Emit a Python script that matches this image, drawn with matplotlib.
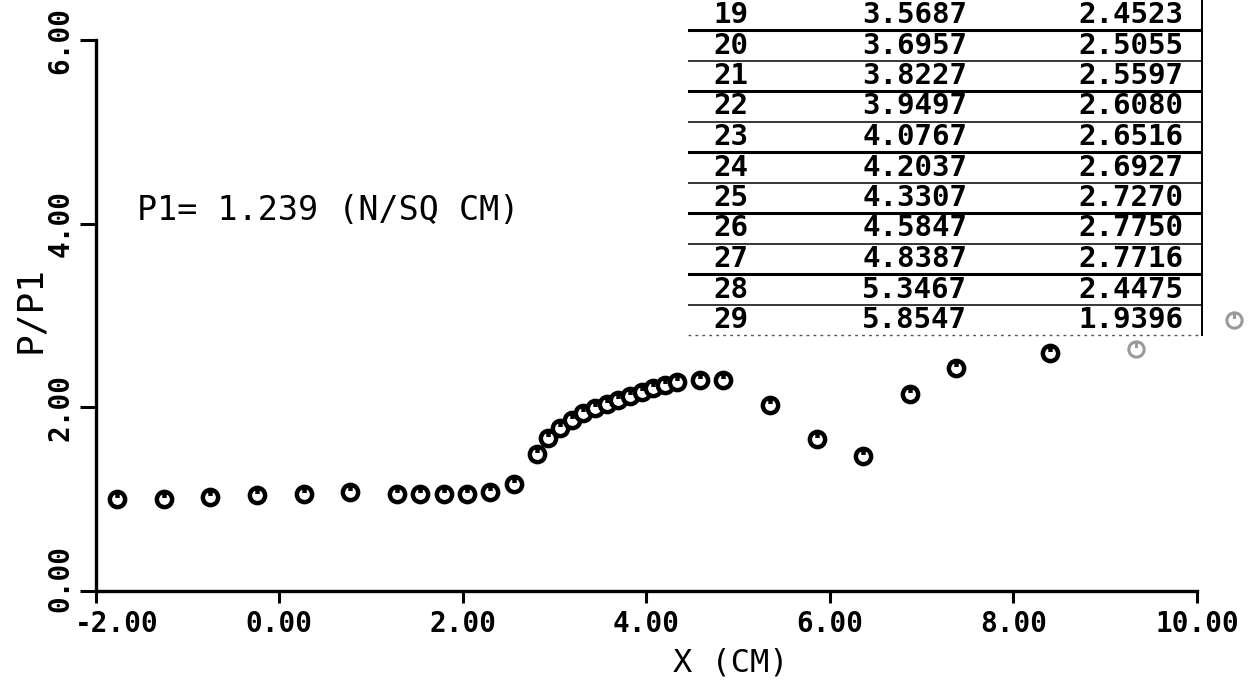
import matplotlib
matplotlib.use("Agg")
import matplotlib.pyplot as plt
from matplotlib.path import Path
from matplotlib.transforms import ScaledTranslation

plt.rcParams['font.family'] = ['DejaVu Sans Mono', 'DejaVu Sans']
plt.rcParams['axes.unicode_minus'] = False

# plotted stations: x (cm) and P/P1
x_cm = [-1.7653, -1.2573, -0.7493, -0.2413, 0.2667, 0.7747,
        1.2827, 1.5367, 1.7907, 2.0447, 2.2987, 2.5527,
        2.8067, 2.9337, 3.0607, 3.1877, 3.3147, 3.4417,
        3.5687, 3.6957, 3.8227, 3.9497, 4.0767, 4.2037, 4.3307,
        4.5847, 4.8387, 5.3467, 5.8547,
        6.3627, 6.8707, 7.3787, 8.3947]
p_ratio = [1.00, 1.00, 1.02, 1.05, 1.06, 1.08,
           1.06, 1.06, 1.06, 1.06, 1.08, 1.17,
           1.49, 1.67, 1.77, 1.86, 1.94, 1.99,
           2.04, 2.08, 2.12, 2.17, 2.21, 2.24, 2.28,
           2.30, 2.30, 2.02, 1.65,
           1.47, 2.14, 2.43, 2.59]
# smudged marks at the right edge of the scan
x_faint = [9.33, 10.40]
p_faint = [2.63, 2.95]

# printed table (station, X, P)
tab_no = [19, 20, 21, 22, 23, 24, 25, 26, 27, 28, 29]
tab_x = [3.5687, 3.6957, 3.8227, 3.9497, 4.0767, 4.2037,
         4.3307, 4.5847, 4.8387, 5.3467, 5.8547]
tab_p = [2.4523, 2.5055, 2.5597, 2.6080, 2.6516, 2.6927,
         2.7270, 2.7750, 2.7716, 2.4475, 1.9396]

xticks = [-2, 0, 2, 4, 6, 8, 10]
xtick_labels = ['-2.00', '0.00', '2.00', '4.00', '6.00', '8.00', '10.00']
yticks = [0, 2, 4, 6]
ytick_labels = ['0.00', '2.00', '4.00', '6.00']

W, H = 1248, 681

# ring with a short stem from the top -> the plotter's "U in a circle"
stem = Path([[0, 1], [0, 0.2]], [Path.MOVETO, Path.LINETO])
symbol = Path.make_compound_path(Path.unit_circle(), stem)

fig = plt.figure(figsize=(W / 100, H / 100), dpi=100)
ax = fig.add_axes([95.7 / W, 90 / H, 1101.3 / W, 551 / H])

ax.plot(x_cm, p_ratio, linestyle='none', marker=symbol, ms=11, mew=3.2,
        mec='black', mfc='white', clip_on=False, zorder=3)
ax.plot(x_faint, p_faint, linestyle='none', marker=symbol, ms=11, mew=2.2,
        mec='#9a9a9a', mfc='white', clip_on=False, zorder=3)

ax.set_xlim(-2, 10)
ax.set_ylim(0, 6)
for side in ['top', 'right']:
    ax.spines[side].set_visible(False)
for side in ['left', 'bottom']:
    ax.spines[side].set_linewidth(2.4)

ax.set_xticks(xticks)
ax.set_xticklabels(xtick_labels, fontweight='bold')
ax.set_yticks(yticks)
ax.set_yticklabels(ytick_labels, rotation=90, va='center', fontweight='bold')
ax.tick_params(axis='x', direction='out', length=8.6, width=2.2, pad=5, labelsize=20)
ax.tick_params(axis='y', direction='out', length=11.5, width=2.2, pad=3.6, labelsize=20)

# plotter put the end labels slightly off-centre
first_x = ax.xaxis.get_major_ticks()[0].label1
first_x.set_transform(first_x.get_transform() + ScaledTranslation(0.21, 0, fig.dpi_scale_trans))
first_y = ax.yaxis.get_major_ticks()[0].label1
first_y.set_transform(first_y.get_transform() + ScaledTranslation(0, 0.12, fig.dpi_scale_trans))

ax.set_xlabel('X (CM)', fontsize=23, va='center')
ax.xaxis.set_label_coords(0.577, -0.130)
ax.set_ylabel('P/P1', fontsize=26, va='center')
ax.yaxis.set_label_coords(-0.0597, 0.51)

ax.text(0.0374, 0.691, 'P1= 1.239 (N/SQ CM)', transform=ax.transAxes,
        fontsize=24, ha='left', va='center')

# table block in the upper right
row0, row_h = 15, 30.5
tab_top, tab_bot = 0, 345
axt = fig.add_axes([688 / W, (H - tab_bot) / H, 514 / W, tab_bot / H])
axt.set_xlim(0, 1)
axt.set_ylim((tab_bot - row0) / row_h, (tab_top - row0) / row_h)
axt.axis('off')

mono = dict(fontweight='bold', fontsize=21, va='center')
n = len(tab_no)
for i, (no, xv, pv) in enumerate(zip(tab_no, tab_x, tab_p)):
    axt.text(0.0486, i, str(no), ha='left', **mono)
    axt.text(0.339, i, f'{xv:.4f}', ha='left', **mono)
    axt.text(0.963, i, f'{pv:.4f}', ha='right', **mono)
    if i < n - 1:
        axt.axhline(i + 0.5, color='black', lw=2.2 if i % 2 == 0 else 1.1)
axt.axhline(n - 0.5, color='#555555', lw=1.0, ls=(0, (2, 3)))
axt.plot([1, 1], [(tab_top - row0) / row_h, n - 0.5], color='black', lw=1.4,
         clip_on=False)

fig.savefig('out.png', dpi=100)
